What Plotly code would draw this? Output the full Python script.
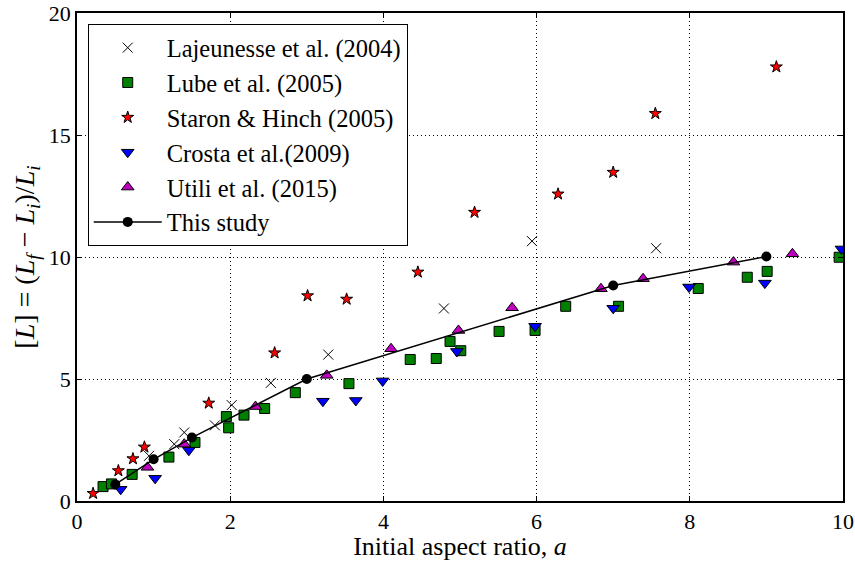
import plotly.graph_objects as go

# Lajeunesse et al. (2004)
laj_x = [0.94, 1.27, 1.40, 1.80, 2.02, 2.53, 3.28, 4.79, 5.94, 7.56]
laj_y = [1.85, 2.33, 2.81, 3.10, 3.93, 4.84, 6.00, 7.89, 10.65, 10.36]
# Lube et al. (2005)
lube_x = [0.34, 0.45, 0.72, 1.20, 1.54, 1.95, 1.98, 2.18, 2.45, 2.85, 3.55, 4.35, 4.69, 4.87, 5.01, 5.51, 5.98, 6.38, 7.07, 8.11, 8.75, 9.01, 9.95]
lube_y = [0.59, 0.70, 1.09, 1.80, 2.40, 3.46, 3.00, 3.52, 3.79, 4.44, 4.81, 5.80, 5.84, 6.54, 6.16, 6.95, 6.99, 7.98, 7.98, 8.71, 9.17, 9.41, 9.99]
# Staron & Hinch (2005)
star_x = [0.21, 0.54, 0.73, 0.88, 1.72, 2.58, 3.01, 3.52, 4.45, 5.19, 6.28, 7.00, 7.55, 9.13]
star_y = [0.31, 1.24, 1.73, 2.21, 4.01, 6.07, 8.41, 8.27, 9.38, 11.83, 12.58, 13.47, 15.88, 17.79]
# Crosta et al. (2009)
cro_x = [0.57, 1.02, 1.46, 3.21, 3.64, 3.99, 4.96, 5.98, 7.00, 7.99, 8.98, 9.98]
cro_y = [0.48, 0.93, 2.08, 4.09, 4.12, 4.92, 6.13, 7.16, 7.90, 8.77, 8.93, 10.33]
# Utili et al. (2015)
uti_x = [0.92, 1.40, 2.33, 3.26, 4.10, 4.98, 5.68, 6.84, 7.39, 8.57, 9.34]
uti_y = [1.38, 2.33, 3.87, 5.15, 6.24, 6.99, 7.92, 8.70, 9.11, 9.79, 10.13]
# This study
this_x = [0.5, 1.0, 1.5, 3.0, 7.0, 9.0]
this_y = [0.68, 1.71, 2.60, 5.00, 8.83, 10.02]

x_ticks = [0, 2, 4, 6, 8, 10]
y_ticks = [0, 5, 10, 15, 20]

FONT = "Liberation Serif"
edge = dict(color="black", width=1)

fig = go.Figure()
fig.add_trace(go.Scatter(x=laj_x, y=laj_y, mode="markers", name="Lajeunesse et al. (2004)",
                         legendgroup="a",
                         marker=dict(symbol="x-thin", size=10, line=dict(color="black", width=1), color="black")))
fig.add_trace(go.Scatter(x=lube_x, y=lube_y, mode="markers", name="Lube et al. (2005)",
                         legendgroup="b",
                         marker=dict(symbol="square", size=10, color="green", line=edge)))
fig.add_trace(go.Scatter(x=star_x, y=star_y, mode="markers", name="Staron & Hinch (2005)",
                         legendgroup="c",
                         marker=dict(symbol="star", size=9, color="red", line=edge)))
fig.add_trace(go.Scatter(x=cro_x, y=cro_y, mode="markers", name="Crosta et al.(2009)",
                         legendgroup="d",
                         marker=dict(symbol="triangle-down", size=11, color="blue", line=edge)))
fig.add_trace(go.Scatter(x=uti_x, y=uti_y, mode="markers", name="Utili et al. (2015)",
                         legendgroup="e",
                         marker=dict(symbol="triangle-up", size=11, color="#bf00bf", line=edge)))
fig.add_trace(go.Scatter(x=this_x, y=this_y, mode="lines+markers", name="This study",
                         legendgroup="f",
                         line=dict(color="black", width=1.5),
                         marker=dict(symbol="circle", size=10, color="black")))

axis_common = dict(showline=True, linecolor="black", linewidth=1.5, mirror="ticks",
                   ticks="inside", ticklen=5, tickcolor="black", automargin=False,
                   showgrid=True, gridcolor="black", griddash="1px,3px", gridwidth=1,
                   zeroline=False, tickfont=dict(family=FONT, size=22, color="black"))

fig.update_layout(
    width=855, height=561,
    margin=dict(l=77, r=12, t=13, b=60),
    paper_bgcolor="white", plot_bgcolor="white",
    font=dict(family=FONT, color="black"),
    xaxis=dict(range=[0, 10], tickvals=x_ticks, ticklabelstandoff=0,
               title=dict(text="Initial aspect ratio, <i>a</i>", font=dict(family=FONT, size=26), standoff=4),
               **axis_common),
    yaxis=dict(range=[0, 20], tickvals=y_ticks,
               title=dict(text="[<i>L</i>] = (<i>L</i><sub><i>f</i></sub> − <i>L</i><sub><i>i</i></sub>)/<i>L</i><sub><i>i</i></sub>",
                          font=dict(family=FONT, size=28), standoff=6),
               **axis_common),
    legend=dict(x=0.014, y=0.977, xanchor="left", yanchor="top",
                bgcolor="white", bordercolor="black", borderwidth=1,
                font=dict(family=FONT, size=24.5, color="black"),
                itemwidth=68, traceorder="grouped", tracegroupgap=0),
)

fig.write_html("out.html", config={"displayModeBar": False},
               post_script="document.body.style.margin='0';document.body.style.overflow='hidden';")
